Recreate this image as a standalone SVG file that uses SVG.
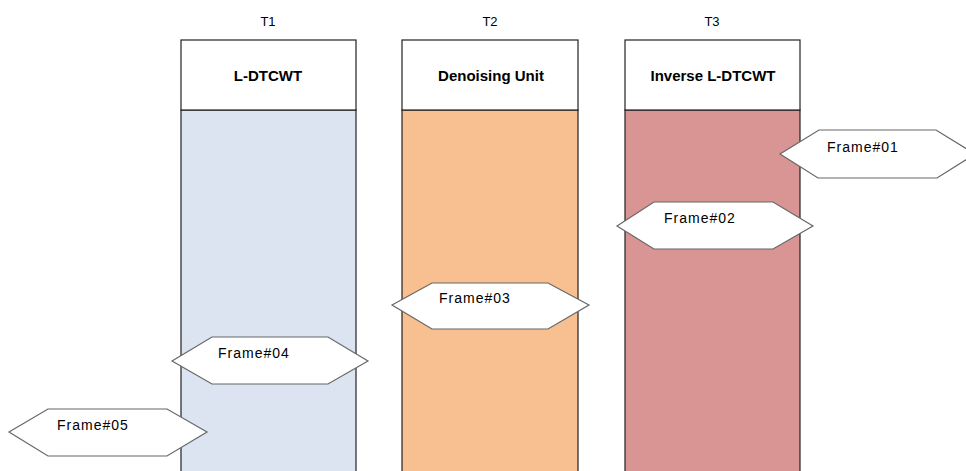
<svg xmlns="http://www.w3.org/2000/svg" width="966" height="471" viewBox="0 0 966 471">
<style>
.col{stroke:#222;stroke-width:1.2}
.hdr{fill:#fff;stroke:#222;stroke-width:1.2}
.t{font-family:"Liberation Sans",Arial,sans-serif;font-size:13px;fill:#000}
.h{font-family:"Liberation Sans",Arial,sans-serif;font-size:15px;font-weight:bold;fill:#000;text-anchor:middle}
.hex{fill:#fff;stroke:#666;stroke-width:1.2}
.f{font-family:"Liberation Sans",Arial,sans-serif;font-size:14px;letter-spacing:1px;fill:#000}
</style>
<rect width="966" height="471" fill="#fff"/>
<g id="col-T1">
<text class="t" x="268" y="26" text-anchor="middle">T1</text>
<rect class="col" x="181" y="110" width="175" height="370" fill="#DBE4F0"/>
<rect class="hdr" x="181" y="40" width="175" height="70"/>
<text class="h" x="268" y="81">L-DTCWT</text>
</g>
<g id="col-T2">
<text class="t" x="490" y="26" text-anchor="middle">T2</text>
<rect class="col" x="402" y="110" width="176" height="370" fill="#F8C091"/>
<rect class="hdr" x="402" y="40" width="176" height="70"/>
<text class="h" x="491" y="81">Denoising Unit</text>
</g>
<g id="col-T3">
<text class="t" x="712" y="26" text-anchor="middle">T3</text>
<rect class="col" x="625" y="110" width="175" height="370" fill="#D99594"/>
<rect class="hdr" x="625" y="40" width="175" height="70"/>
<text class="h" x="713" y="81">Inverse L-DTCWT</text>
</g>
<g id="frame01">
<polygon class="hex" points="780,154 819,130 936,130 975,154 937,178 818,178"/>
<text class="f" x="827" y="152">Frame#01</text>
</g>
<g id="frame02">
<polygon class="hex" points="617,226 654,202 773,202 813,226 773,249 654,249"/>
<text class="f" x="664" y="223">Frame#02</text>
</g>
<g id="frame03">
<polygon class="hex" points="392,305 432,283 548,283 589,305 548,329 432,329"/>
<text class="f" x="439" y="303">Frame#03</text>
</g>
<g id="frame04">
<polygon class="hex" points="172,361 212,337 328,337 368,361 328,384 212,384"/>
<text class="f" x="218" y="358">Frame#04</text>
</g>
<g id="frame05">
<polygon class="hex" points="9,432 48,409 167,409 207,432 167,456 48,456"/>
<text class="f" x="57" y="430">Frame#05</text>
</g>
<g id="connectors"></g>
</svg>
